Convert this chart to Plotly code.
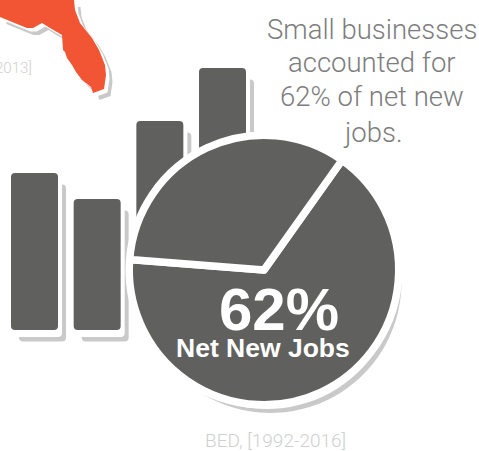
import plotly.graph_objects as go

# Data
bar_categories = [0, 1, 2, 3]
bar_values = [157, 131, 159, 212]
bar_starts = [0, 0, 50, 50]
pie_labels = ["Net new jobs", "Other"]
pie_values = [66.4, 33.6]
headline_lines = ["Small businesses", "accounted for", "62% of net new", "jobs."]
florida_x = [0, 74, 75, 80, 92, 99, 105, 106, 104, 93, 91, 82, 76, 72, 67, 65, 63, 62, 50, 42, 33, 27, 17, 8, 0]
florida_y = [0, 0, 10, 23, 38, 50, 65, 75, 89, 93, 87, 80, 72, 65, 58, 52, 50, 35, 28, 23, 28, 28, 24, 20, 17]

DARK = "#60615e"
SHADOW = "#c9c9c9"
ORANGE = "#f15533"
WHITE = "#ffffff"
W, H = 479, 451
STEP = 62.67
BAR_W = 47 / STEP

fig = go.Figure()

for color, dx, dy in [(SHADOW, 8, 11.5), (WHITE, 4, 7), (DARK, 0, 0)]:
    fig.add_trace(go.Bar(
        x=bar_categories, y=bar_values, base=[b - dy for b in bar_starts], width=BAR_W,
        offset=-BAR_W / 2 + dx / STEP,
        marker=dict(color=color, line=dict(width=0), cornerradius=4),
        hoverinfo="skip", showlegend=False,
    ))

for color, dx, dy in [(SHADOW, 6.5, 7), (WHITE, 3.5, 3.5), (ORANGE, 0, 0)]:
    fig.add_trace(go.Scatter(
        x=[v + dx for v in florida_x], y=[v + dy for v in florida_y],
        xaxis="x2", yaxis="y2", mode="lines", fill="toself",
        fillcolor=color, line=dict(width=0, color=color),
        hoverinfo="skip", showlegend=False,
    ))

CX, CY, R = 264, 270, 131
for color, dx, dy, lw in [(SHADOW, 6.5, 12, 0), (WHITE, 3, 8, 0), (DARK, 0, 0, 7.5)]:
    r = R + lw / 2
    fig.add_trace(go.Pie(
        labels=pie_labels, values=pie_values, sort=False, direction="clockwise",
        rotation=35.4, textinfo="none", hoverinfo="skip", showlegend=False,
        marker=dict(colors=[color, color], line=dict(color=WHITE, width=lw)),
        domain=dict(x=[(CX + dx - r) / W, (CX + dx + r) / W],
                    y=[(H - (CY + dy + r)) / H, (H - (CY + dy - r)) / H]),
    ))

LIGHT = "Roboto"
annotations = []
for line, yp in zip(headline_lines, [29, 62, 96, 132]):
    annotations.append(dict(text=line, x=372, y=yp, xref="x2", yref="y2", showarrow=False,
                            xanchor="center", yanchor="middle",
                            font=dict(family=LIGHT, size=27.5, color="#7d7d7d", weight=300)))
annotations += [
    dict(text="62%", x=279, y=309, xref="x2", yref="y2", showarrow=False,
         font=dict(family="Liberation Sans", size=60, color=WHITE, weight="bold")),
    dict(text="Net New Jobs", x=263, y=348, xref="x2", yref="y2", showarrow=False,
         font=dict(family="Liberation Sans", size=26.5, color=WHITE, weight="bold")),
    dict(text="BED, [1992-2016]", x=275, y=440, xref="x2", yref="y2", showarrow=False,
         font=dict(family=LIGHT, size=19, color="#cfcfcf", weight=300)),
    dict(text="2013]", x=34, y=68, xref="x2", yref="y2", showarrow=False, xanchor="right",
         font=dict(family=LIGHT, size=15, color="#cfcfcf", weight=300)),
]

fig.update_layout(
    width=W, height=H, margin=dict(l=0, r=0, t=0, b=0),
    paper_bgcolor=WHITE, plot_bgcolor=WHITE, barmode="overlay", showlegend=False,
    xaxis=dict(range=[-34.5 / STEP, (W - 34.5) / STEP], visible=False, fixedrange=True),
    yaxis=dict(range=[-121, 330], visible=False, fixedrange=True),
    xaxis2=dict(range=[0, W], overlaying="x", visible=False, fixedrange=True),
    yaxis2=dict(range=[H, 0], overlaying="y", visible=False, fixedrange=True),
    annotations=annotations,
)

fig.write_html("out.html", config=dict(displayModeBar=False),
               post_script="document.body.style.margin='0';document.documentElement.style.overflow='hidden';")
